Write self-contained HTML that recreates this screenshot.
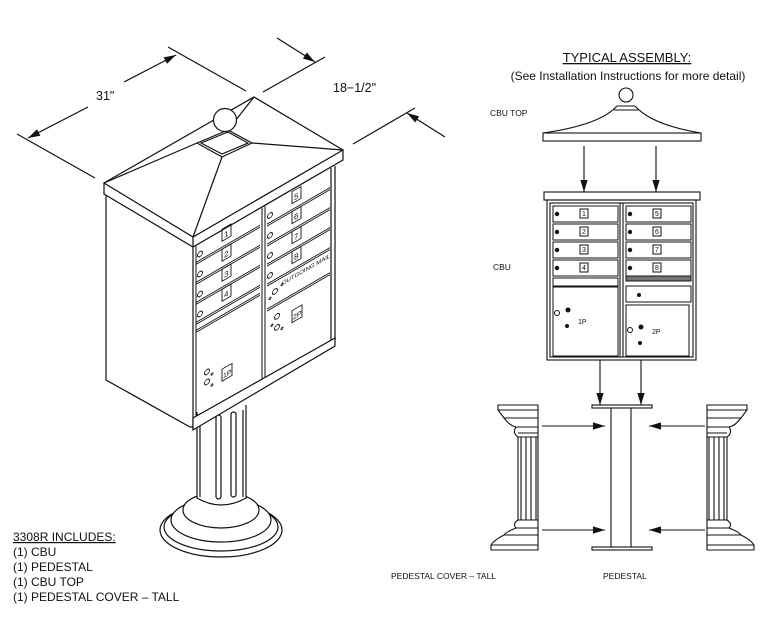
<!DOCTYPE html>
<html><head><meta charset="utf-8"><style>
html,body{margin:0;padding:0;background:#fff;}
svg{display:block;}
text{font-family:"Liberation Sans",sans-serif;fill:#111;}
</style></head><body>
<svg width="783" height="638" viewBox="0 0 783 638" xmlns="http://www.w3.org/2000/svg">
<defs>
<marker id="ab" viewBox="0 0 10 10" refX="10" refY="5" markerWidth="16" markerHeight="12" orient="auto" markerUnits="userSpaceOnUse"><path d="M0,2 L10,5 L0,8 z" fill="#111"/></marker>
</defs>
<g stroke="#111" fill="none" stroke-width="1.2">
<line x1="17" y1="134" x2="95" y2="178"/>
<line x1="168" y1="47" x2="246" y2="91"/>
<line x1="88" y1="107" x2="28" y2="138" marker-end="url(#ab)"/>
<line x1="124" y1="82" x2="176" y2="55" marker-end="url(#ab)"/>
<line x1="263" y1="92" x2="325" y2="57"/>
<line x1="353" y1="144" x2="415" y2="108"/>
<line x1="277" y1="38" x2="315" y2="62" marker-end="url(#ab)"/>
<line x1="445" y1="137" x2="407" y2="113" marker-end="url(#ab)"/>

<path d="M106,195 L106,380 L190,427 L193,427" />
<path d="M193,247 L193,430"/>
<path d="M335,166 L335,340"/>
<path d="M331,168 L331,343"/>
<path d="M193,420 L335,338"/>
<path d="M193,428 L335,346"/>
<path d="M104,183 L254,97 L343,150 L193,237 Z" fill="#fff"/>
<path d="M104,183 L104,194 L193,247 L343,160 L343,150"/>
<line x1="193" y1="237" x2="193" y2="247"/>
<line x1="222" y1="157" x2="193" y2="237"/>
<line x1="252" y1="143" x2="343" y2="150"/>
<line x1="197" y1="143" x2="104" y2="183"/>
<line x1="228" y1="130" x2="254" y2="97"/>
<path d="M197,143 L228,130 L252,143 L222,157 Z" fill="#fff"/>
<path d="M201,143 L228,132 L248,143 L222,154 Z"/>
<circle cx="225" cy="120" r="11.5" fill="#fff"/>

<g transform="matrix(1,-0.58,0,1,0,0)" stroke-width="1">
<line x1="262" y1="360" x2="262" y2="532"/>
<line x1="265" y1="360" x2="265" y2="532"/>
<line x1="196" y1="360" x2="196" y2="532"/>
<g>
<line x1="196" y1="376" x2="260" y2="376"/><line x1="196" y1="378" x2="260" y2="378"/>
<line x1="196" y1="396" x2="260" y2="396"/><line x1="196" y1="398" x2="260" y2="398"/>
<line x1="196" y1="416" x2="260" y2="416"/><line x1="196" y1="418" x2="260" y2="418"/>
<line x1="196" y1="436" x2="260" y2="436"/><line x1="196" y1="438" x2="260" y2="438"/>
<line x1="196" y1="444" x2="260" y2="444"/><line x1="196" y1="446" x2="260" y2="446"/>
<line x1="267" y1="379" x2="330" y2="379"/><line x1="267" y1="381" x2="330" y2="381"/>
<line x1="267" y1="399" x2="330" y2="399"/><line x1="267" y1="401" x2="330" y2="401"/>
<line x1="267" y1="419" x2="330" y2="419"/><line x1="267" y1="421" x2="330" y2="421"/>
<line x1="267" y1="439" x2="330" y2="439"/><line x1="267" y1="441" x2="330" y2="441"/>
<line x1="267" y1="464" x2="330" y2="464"/><line x1="267" y1="466" x2="330" y2="466"/>
</g>
<g stroke-width="0.9">
<circle cx="200" cy="370" r="2.5"/><circle cx="200" cy="390" r="2.5"/><circle cx="200" cy="410" r="2.5"/><circle cx="200" cy="430" r="2.5"/>
<circle cx="270" cy="372" r="2.5"/><circle cx="270" cy="392" r="2.5"/><circle cx="270" cy="412" r="2.5"/><circle cx="270" cy="432" r="2.5"/>
<rect x="222" y="358" width="9" height="12"/><rect x="222" y="378" width="9" height="12"/><rect x="222" y="398" width="9" height="12"/><rect x="222" y="418" width="9" height="12"/>
<rect x="292" y="361" width="9" height="12"/><rect x="292" y="381" width="9" height="12"/><rect x="292" y="401" width="9" height="12"/><rect x="292" y="421" width="9" height="12"/>
<rect x="222" y="498" width="10" height="12"/><rect x="292" y="480" width="10" height="12"/>
<circle cx="207" cy="492" r="2.5"/><circle cx="207" cy="502" r="2.5"/><circle cx="212" cy="497" r="1"/><circle cx="212" cy="508" r="1"/>
<circle cx="277" cy="477" r="2.5"/><circle cx="277" cy="488" r="2.5"/><circle cx="272" cy="483" r="1"/><circle cx="282" cy="492" r="1"/>
<circle cx="275" cy="451" r="2.5"/><circle cx="270" cy="455" r="1"/><circle cx="282" cy="448" r="1"/>
</g>
<g stroke="none" fill="#111" font-size="8">
<text x="224" y="368">1</text>
<text x="224" y="388">2</text>
<text x="224" y="408">3</text>
<text x="224" y="428">4</text>
<text x="294" y="371">5</text>
<text x="294" y="391">6</text>
<text x="294" y="411">7</text>
<text x="294" y="431">8</text>
<text x="282" y="449" font-size="6">OUTGOING MAIL</text>
<text x="223" y="508" font-size="7">1P</text>
<text x="293" y="490" font-size="7">2P</text>
</g>
</g>

<ellipse cx="221" cy="530" rx="61" ry="27" fill="#fff"/>
<ellipse cx="221" cy="527" rx="57" ry="24"/>
<ellipse cx="221" cy="520" rx="50" ry="22" fill="#fff"/>
<ellipse cx="221" cy="510" rx="38" ry="18" fill="#fff"/>
<path d="M197,412 L197,498 Q221,512 246,498 L246,405" fill="#fff"/>
<path d="M200,415 L200,497 M243,410 L243,497"/>
<rect x="216" y="415" width="5" height="84" rx="2.5"/>
<rect x="231" y="412" width="5" height="85" rx="2.5"/>
<path d="M193,430 L193,418 L335,338 L335,346 Z" fill="#fff"/>
</g>
<g font-size="12.5">
<text x="96" y="100">31"</text>
<text x="333" y="92">18−1/2"</text>
</g>
<g font-size="12">
<text x="13" y="541" text-decoration="underline">3308R INCLUDES:</text>
<text x="13" y="556">(1) CBU</text>
<text x="13" y="571">(1) PEDESTAL</text>
<text x="13" y="586">(1) CBU TOP</text>
<text x="13" y="601">(1) PEDESTAL COVER – TALL</text>
</g>

<text x="627" y="62" font-size="13" text-anchor="middle" text-decoration="underline">TYPICAL ASSEMBLY:</text>
<text x="628" y="80" font-size="12" text-anchor="middle">(See Installation Instructions for more detail)</text>
<text x="490" y="116" font-size="8.5">CBU TOP</text>
<text x="493" y="270" font-size="8.5">CBU</text>
<text x="391" y="579" font-size="8.5">PEDESTAL COVER – TALL</text>
<text x="603" y="579" font-size="8.5">PEDESTAL</text>
<g stroke="#111" fill="none" stroke-width="1.1">
<circle cx="626" cy="95" r="7"/>
<path d="M617,106 L635,106 M614,110 L638,110"/>
<path d="M543,133 Q600,125 617,106 M701,133 Q652,125 635,106"/>
<rect x="543" y="133" width="158" height="8" fill="#fff"/>
<line x1="584" y1="146" x2="584" y2="192" marker-end="url(#ab)"/>
<line x1="656" y1="146" x2="656" y2="192" marker-end="url(#ab)"/>
<rect x="544" y="192" width="156" height="8"/>
<rect x="547" y="200" width="149" height="160"/>
<rect x="550" y="203" width="143" height="154"/>
<line x1="620" y1="203" x2="620" y2="357"/><line x1="623" y1="203" x2="623" y2="357"/>
<g stroke-width="1">
<rect x="553" y="206" width="65" height="16"/><rect x="553" y="224" width="65" height="16"/>
<rect x="553" y="242" width="65" height="16"/><rect x="553" y="260" width="65" height="16"/>
<rect x="553" y="278" width="65" height="8"/>
<rect x="553" y="287" width="65" height="69"/>
<rect x="626" y="206" width="65" height="16"/><rect x="626" y="224" width="65" height="16"/>
<rect x="626" y="242" width="65" height="16"/><rect x="626" y="260" width="65" height="16"/>
<rect x="626" y="276" width="65" height="5" fill="#777"/>
<rect x="626" y="286" width="65" height="16"/>
<rect x="626" y="305" width="63" height="51"/>
<rect x="580" y="209" width="8" height="9"/><rect x="580" y="227" width="8" height="9"/>
<rect x="580" y="245" width="8" height="9"/><rect x="580" y="263" width="8" height="9"/>
<rect x="653" y="209" width="8" height="9"/><rect x="653" y="227" width="8" height="9"/>
<rect x="653" y="245" width="8" height="9"/><rect x="653" y="263" width="8" height="9"/>
<circle cx="557" cy="313" r="2.5"/><circle cx="630" cy="330" r="2.5"/>
</g>
<g fill="#111" stroke="none">
<circle cx="557" cy="214" r="2.2"/><circle cx="557" cy="232" r="2.2"/><circle cx="557" cy="250" r="2.2"/><circle cx="557" cy="268" r="2.2"/>
<circle cx="630" cy="214" r="2.2"/><circle cx="630" cy="232" r="2.2"/><circle cx="630" cy="250" r="2.2"/><circle cx="630" cy="268" r="2.2"/>
<circle cx="568" cy="310" r="2.5"/><circle cx="567" cy="326" r="2"/><circle cx="641" cy="327" r="2.5"/><circle cx="640" cy="343" r="2"/><circle cx="639" cy="295" r="2"/>
</g>
<g font-size="7" fill="#111" stroke="none">
<text x="582" y="216">1</text><text x="582" y="234">2</text><text x="582" y="252">3</text><text x="582" y="270">4</text>
<text x="655" y="216">5</text><text x="655" y="234">6</text><text x="655" y="252">7</text><text x="655" y="270">8</text>
<text x="578" y="324">1P</text><text x="652" y="334">2P</text>
</g>
<line x1="600" y1="360" x2="600" y2="405" marker-end="url(#ab)"/>
<line x1="641" y1="360" x2="641" y2="405" marker-end="url(#ab)"/>
<rect x="592" y="405" width="60" height="3"/>
<rect x="592" y="547" width="60" height="3"/>
<line x1="611" y1="408" x2="611" y2="547"/><line x1="631" y1="408" x2="631" y2="547"/>
<line x1="542" y1="426" x2="605" y2="426" marker-end="url(#ab)"/>
<line x1="542" y1="530" x2="605" y2="530" marker-end="url(#ab)"/>
<line x1="705" y1="426" x2="649" y2="426" marker-end="url(#ab)"/>
<line x1="705" y1="530" x2="649" y2="530" marker-end="url(#ab)"/>
<g>
<path d="M538,405 L498,405 L498,410 L504,418 Q510,426 516,427 Q512,433 518,437 L518,520 Q512,524 516,528 Q506,532 504,535 Q494,540 491,545 L491,550 L538,550 Z" fill="#fff"/>
<path d="M498,410 L538,410 M504,418 L538,418 M516,427 L538,427 M518,433 L538,433 M518,437 L538,437 M518,520 L538,520 M516,528 L538,528 M504,535 L538,535 M491,545 L538,545"/>
<path d="M521,437 L521,520 M526,437 L526,520 M531,437 L531,520 M536,437 L536,520"/>
</g>
<g transform="translate(1245,0) scale(-1,1)">
<path d="M538,405 L498,405 L498,410 L504,418 Q510,426 516,427 Q512,433 518,437 L518,520 Q512,524 516,528 Q506,532 504,535 Q494,540 491,545 L491,550 L538,550 Z" fill="#fff"/>
<path d="M498,410 L538,410 M504,418 L538,418 M516,427 L538,427 M518,433 L538,433 M518,437 L538,437 M518,520 L538,520 M516,528 L538,528 M504,535 L538,535 M491,545 L538,545"/>
<path d="M521,437 L521,520 M526,437 L526,520 M531,437 L531,520 M536,437 L536,520"/>
</g>
</g>
</svg>
</body></html>
